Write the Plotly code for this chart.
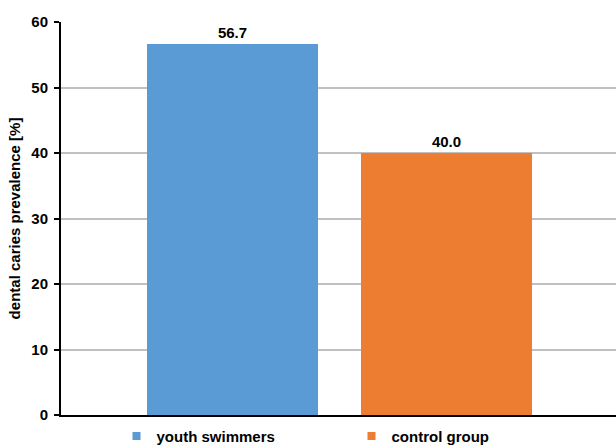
import plotly.graph_objects as go

categories = ["youth swimmers", "control group"]
values = [56.7, 40.0]
colors = ["#5B9BD5", "#ED7D31"]
y_ticks = [0, 10, 20, 30, 40, 50, 60]

FONT = "Liberation Sans, Arial, sans-serif"

fig = go.Figure()
for i, (c, v) in enumerate(zip(categories, values)):
    fig.add_trace(go.Bar(
        x=[i], y=[v], width=0.8,
        marker=dict(color=colors[i], line=dict(width=0)),
        text=[f"<b>{v:.1f}</b>"], textposition="outside",
        textfont=dict(family=FONT, size=15, color="black"),
        cliponaxis=False, showlegend=False, name=c,
    ))
    # legend proxy with small square markers
    fig.add_trace(go.Scatter(
        x=[None], y=[None], mode="markers", name=f"<b>{c}</b>",
        marker=dict(symbol="square", size=8, color=colors[i]),
    ))

fig.update_layout(
    width=616, height=447,
    margin=dict(l=61, r=0, t=22, b=32, autoexpand=False),
    paper_bgcolor="white", plot_bgcolor="white",
    font=dict(family=FONT, size=15, color="black"),
    bargap=0,
    xaxis=dict(range=[-0.8, 1.79], showticklabels=False, showgrid=False,
               zeroline=False, showline=True, linecolor="black", linewidth=2,
               ticks=""),
    yaxis=dict(range=[0, 60], tickvals=y_ticks,
               ticktext=[f"<b>{t}</b>" for t in y_ticks],
               showgrid=True, gridcolor="#C0C0C0", gridwidth=1.5,
               zeroline=False, showline=True, linecolor="black", linewidth=2,
               ticks="outside", ticklen=5, tickcolor="black", tickwidth=2,
               ticklabelstandoff=3,
               title=dict(text="<b>dental caries prevalence [%]</b>",
                          font=dict(size=15), standoff=7),
               tickfont=dict(size=15)),
    legend=dict(orientation="h", x=0.1, xanchor="left", y=-0.012,
                yanchor="top", entrywidth=190, entrywidthmode="pixels",
                font=dict(size=15), bgcolor="rgba(0,0,0,0)"),
)

fig.write_html("out.html")
